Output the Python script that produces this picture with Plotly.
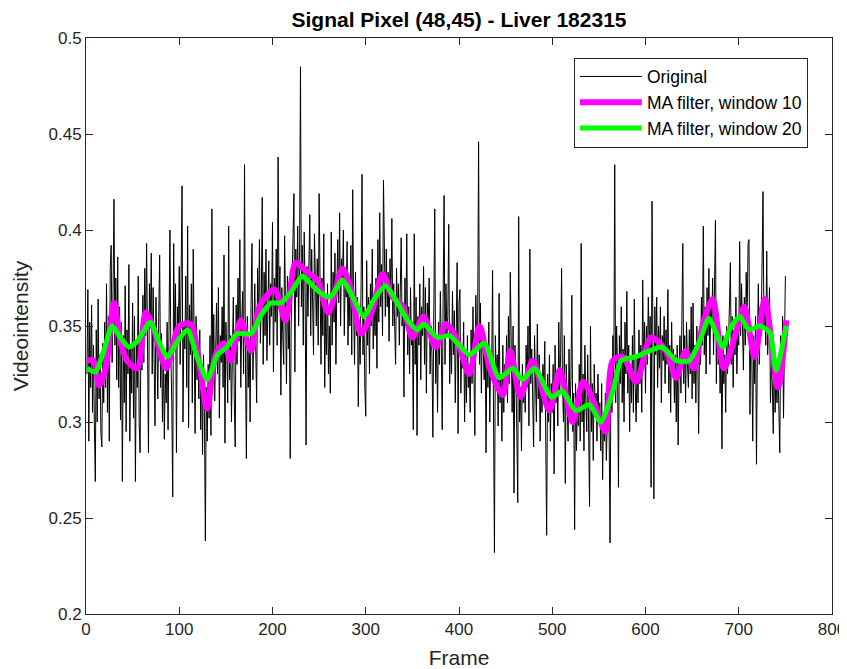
import numpy as np
import plotly.graph_objects as go

# ---------------- data ----------------
original = [
    0.325, 0.369, 0.290, 0.352, 0.318, 0.361, 0.305, 0.340, 0.298, 0.269,
    0.348, 0.300, 0.364, 0.312, 0.335, 0.294, 0.287, 0.341, 0.310, 0.352,
    0.318, 0.372, 0.305, 0.355, 0.290, 0.380, 0.392, 0.331, 0.368, 0.416,
    0.340, 0.375, 0.322, 0.386, 0.318, 0.360, 0.301, 0.352, 0.269, 0.345,
    0.310, 0.371, 0.295, 0.348, 0.325, 0.382, 0.290, 0.339, 0.315, 0.362,
    0.302, 0.355, 0.269, 0.341, 0.318, 0.376, 0.300, 0.284, 0.350, 0.327,
    0.366, 0.331, 0.380, 0.345, 0.393, 0.320, 0.284, 0.372, 0.350, 0.388,
    0.325, 0.370, 0.340, 0.298, 0.365, 0.334, 0.312, 0.355, 0.387, 0.318,
    0.346, 0.300, 0.338, 0.291, 0.325, 0.310, 0.352, 0.296, 0.368, 0.400,
    0.335, 0.310, 0.261, 0.393, 0.340, 0.372, 0.284, 0.360, 0.345, 0.381,
    0.330, 0.365, 0.423, 0.300, 0.352, 0.338, 0.376, 0.318, 0.402, 0.297,
    0.361, 0.335, 0.372, 0.310, 0.390, 0.342, 0.294, 0.355, 0.322, 0.340,
    0.312, 0.348, 0.296, 0.330, 0.283, 0.335, 0.305, 0.238, 0.318, 0.290,
    0.330, 0.302, 0.345, 0.293, 0.411, 0.320, 0.356, 0.311, 0.338, 0.362,
    0.325, 0.370, 0.302, 0.345, 0.331, 0.360, 0.318, 0.387, 0.289, 0.352,
    0.338, 0.310, 0.402, 0.322, 0.345, 0.300, 0.336, 0.365, 0.312, 0.287,
    0.361, 0.330, 0.375, 0.342, 0.395, 0.318, 0.352, 0.368, 0.325, 0.434,
    0.330, 0.281, 0.355, 0.318, 0.342, 0.300, 0.362, 0.393, 0.322, 0.345,
    0.372, 0.338, 0.310, 0.380, 0.352, 0.395, 0.341, 0.365, 0.417, 0.330,
    0.378, 0.345, 0.390, 0.332, 0.362, 0.384, 0.340, 0.372, 0.355, 0.404,
    0.326, 0.375, 0.352, 0.390, 0.340, 0.438, 0.362, 0.381, 0.314, 0.370,
    0.345, 0.330, 0.397, 0.352, 0.320, 0.376, 0.338, 0.360, 0.281, 0.350,
    0.372, 0.398, 0.419, 0.326, 0.390, 0.365, 0.402, 0.350, 0.385, 0.485,
    0.360, 0.392, 0.340, 0.399, 0.368, 0.288, 0.381, 0.355, 0.375, 0.408,
    0.345, 0.390, 0.362, 0.335, 0.398, 0.370, 0.350, 0.385, 0.340, 0.419,
    0.368, 0.330, 0.375, 0.345, 0.398, 0.318, 0.360, 0.335, 0.372, 0.325,
    0.350, 0.315, 0.399, 0.340, 0.378, 0.352, 0.388, 0.330, 0.370, 0.395,
    0.362, 0.409, 0.350, 0.385, 0.372, 0.400, 0.345, 0.380, 0.365, 0.394,
    0.340, 0.375, 0.350, 0.392, 0.335, 0.421, 0.360, 0.330, 0.378, 0.345,
    0.365, 0.308, 0.350, 0.330, 0.372, 0.429, 0.335, 0.360, 0.318, 0.303,
    0.384, 0.340, 0.365, 0.325, 0.372, 0.350, 0.390, 0.338, 0.360, 0.345,
    0.375, 0.328, 0.395, 0.352, 0.409, 0.360, 0.382, 0.345, 0.426, 0.368,
    0.355, 0.390, 0.360, 0.378, 0.342, 0.385, 0.365, 0.406, 0.350, 0.372,
    0.345, 0.330, 0.380, 0.355, 0.372, 0.340, 0.368, 0.396, 0.350, 0.362,
    0.313, 0.375, 0.350, 0.398, 0.335, 0.360, 0.325, 0.370, 0.340, 0.352,
    0.296, 0.398, 0.330, 0.365, 0.293, 0.355, 0.340, 0.372, 0.322, 0.360,
    0.345, 0.381, 0.330, 0.370, 0.315, 0.362, 0.348, 0.375, 0.325, 0.350,
    0.335, 0.292, 0.360, 0.411, 0.320, 0.345, 0.305, 0.352, 0.330, 0.368,
    0.340, 0.296, 0.365, 0.418, 0.330, 0.372, 0.345, 0.355, 0.403, 0.320,
    0.350, 0.325, 0.368, 0.335, 0.358, 0.310, 0.345, 0.383, 0.294, 0.362,
    0.369, 0.315, 0.340, 0.328, 0.352, 0.300, 0.335, 0.310, 0.345, 0.318,
    0.330, 0.305, 0.348, 0.320, 0.360, 0.335, 0.293, 0.366, 0.340, 0.352,
    0.446, 0.330, 0.362, 0.315, 0.350, 0.338, 0.322, 0.345, 0.284, 0.340,
    0.318, 0.352, 0.300, 0.335, 0.325, 0.379, 0.310, 0.232, 0.345, 0.320,
    0.335, 0.298, 0.367, 0.310, 0.325, 0.290, 0.340, 0.305, 0.330, 0.315,
    0.345, 0.310, 0.355, 0.320, 0.378, 0.335, 0.305, 0.350, 0.263, 0.340,
    0.325, 0.295, 0.258, 0.407, 0.300, 0.318, 0.285, 0.330, 0.310, 0.322,
    0.305, 0.340, 0.318, 0.350, 0.298, 0.390, 0.320, 0.338, 0.310, 0.287,
    0.345, 0.320, 0.300, 0.351, 0.312, 0.335, 0.290, 0.325, 0.305, 0.330,
    0.318, 0.342, 0.295, 0.241, 0.325, 0.300, 0.335, 0.290, 0.320, 0.305,
    0.330, 0.273, 0.340, 0.310, 0.325, 0.298, 0.352, 0.315, 0.335, 0.380,
    0.320, 0.300, 0.345, 0.268, 0.330, 0.310, 0.290, 0.338, 0.305, 0.322,
    0.366, 0.295, 0.315, 0.244, 0.320, 0.285, 0.310, 0.298, 0.330, 0.290,
    0.393, 0.300, 0.325, 0.285, 0.340, 0.310, 0.295, 0.335, 0.305, 0.256,
    0.350, 0.295, 0.320, 0.280, 0.330, 0.305, 0.315, 0.290, 0.325, 0.300,
    0.310, 0.285, 0.320, 0.270, 0.305, 0.290, 0.315, 0.280, 0.300, 0.325,
    0.295, 0.237, 0.330, 0.305, 0.345, 0.320, 0.434, 0.310, 0.350, 0.330,
    0.266, 0.345, 0.320, 0.360, 0.310, 0.338, 0.300, 0.352, 0.325, 0.368,
    0.315, 0.340, 0.295, 0.330, 0.310, 0.345, 0.305, 0.364, 0.318, 0.300,
    0.335, 0.310, 0.348, 0.320, 0.340, 0.305, 0.374, 0.328, 0.352, 0.315,
    0.350, 0.330, 0.365, 0.338, 0.355, 0.266, 0.415, 0.345, 0.260, 0.360,
    0.335, 0.365, 0.318, 0.350, 0.328, 0.360, 0.310, 0.345, 0.332, 0.355,
    0.320, 0.348, 0.330, 0.369, 0.315, 0.340, 0.305, 0.352, 0.325, 0.338,
    0.310, 0.335, 0.300, 0.340, 0.288, 0.328, 0.345, 0.315, 0.355, 0.393,
    0.320, 0.345, 0.310, 0.352, 0.330, 0.318, 0.348, 0.325, 0.360, 0.312,
    0.362, 0.320, 0.340, 0.310, 0.350, 0.335, 0.294, 0.345, 0.330, 0.365,
    0.340, 0.402, 0.335, 0.360, 0.325, 0.370, 0.345, 0.380, 0.330, 0.362,
    0.350, 0.375, 0.335, 0.368, 0.405, 0.320, 0.355, 0.330, 0.345, 0.315,
    0.340, 0.286, 0.345, 0.320, 0.335, 0.305, 0.350, 0.325, 0.338, 0.360,
    0.383, 0.330, 0.355, 0.318, 0.348, 0.335, 0.365, 0.325, 0.350, 0.340,
    0.394, 0.345, 0.372, 0.350, 0.327, 0.365, 0.340, 0.378, 0.355, 0.393,
    0.395, 0.304, 0.350, 0.335, 0.290, 0.345, 0.320, 0.355, 0.278, 0.340,
    0.372, 0.330, 0.360, 0.345, 0.380, 0.420, 0.350, 0.365, 0.340, 0.389,
    0.335, 0.350, 0.370, 0.310, 0.330, 0.320, 0.294, 0.340, 0.305, 0.325,
    0.310, 0.330, 0.300, 0.284, 0.345, 0.320, 0.355, 0.302, 0.340, 0.376,
]
frames = np.arange(1, len(original) + 1)

ma10_frames = [1, 8, 14, 21, 30, 37, 44, 55, 64, 73, 86, 100, 112, 121, 130,
               139, 148, 155, 166, 177, 186, 202, 214, 225, 237, 248, 260, 275,
               284, 295, 307, 318, 329, 340, 350, 362, 375, 386, 397, 411, 422,
               433, 447, 455, 466, 479, 497, 508, 522, 533, 544, 557, 565, 576,
               590, 606, 622, 633, 643, 652, 661, 672, 684, 699, 706, 717, 728,
               742, 751]
ma10_values = [0.332, 0.332, 0.319, 0.328, 0.362, 0.342, 0.332, 0.328, 0.357,
               0.348, 0.328, 0.350, 0.351, 0.332, 0.307, 0.335, 0.341, 0.332,
               0.353, 0.337, 0.360, 0.369, 0.353, 0.383, 0.378, 0.374, 0.357,
               0.380, 0.369, 0.346, 0.358, 0.377, 0.365, 0.360, 0.344, 0.355,
               0.339, 0.351, 0.344, 0.325, 0.350, 0.328, 0.314, 0.337, 0.313,
               0.332, 0.306, 0.327, 0.300, 0.321, 0.311, 0.295, 0.332, 0.334,
               0.321, 0.344, 0.337, 0.323, 0.337, 0.328, 0.350, 0.364, 0.328,
               0.350, 0.360, 0.334, 0.364, 0.318, 0.353]

ma20_frames = [1, 10, 19, 28, 37, 46, 55, 69, 78, 87, 98, 109, 119, 130, 141,
               151, 162, 177, 187, 198, 209, 219, 232, 241, 252, 262, 275, 284,
               298, 309, 321, 334, 345, 355, 362, 377, 390, 411, 427, 443, 458,
               468, 481, 499, 511, 525, 540, 552, 565, 574, 590, 604, 618, 633,
               647, 658, 668, 683, 690, 701, 711, 722, 733, 740, 751]
ma20_values = [0.328, 0.326, 0.337, 0.350, 0.344, 0.339, 0.342, 0.352, 0.342,
               0.334, 0.342, 0.348, 0.334, 0.322, 0.335, 0.339, 0.346, 0.346,
               0.355, 0.362, 0.362, 0.367, 0.376, 0.372, 0.367, 0.365, 0.374,
               0.367, 0.355, 0.364, 0.371, 0.362, 0.353, 0.348, 0.351, 0.344,
               0.345, 0.335, 0.341, 0.323, 0.328, 0.322, 0.328, 0.313, 0.316,
               0.306, 0.309, 0.300, 0.316, 0.332, 0.334, 0.337, 0.339, 0.332,
               0.332, 0.342, 0.354, 0.339, 0.348, 0.355, 0.348, 0.350, 0.347,
               0.327, 0.350]

x_ticks = [0, 100, 200, 300, 400, 500, 600, 700, 800]
y_ticks = [0.2, 0.25, 0.3, 0.35, 0.4, 0.45, 0.5]
y_tick_labels = ["0.2", "0.25", "0.3", "0.35", "0.4", "0.45", "0.5"]

series_names = ["Original", "MA filter, window 10", "MA filter, window 20"]
title_text = "Signal Pixel (48,45) - Liver 182315"
x_label = "Frame"
y_label = "Videointensity"

# ---------------- figure ----------------
FONT = "Liberation Sans, Arial, Helvetica, sans-serif"
AXC = "#262626"
# the page body has an 8px margin, so the figure is sized/positioned to compensate
W, H = 839, 661

fig = go.Figure()
fig.add_trace(go.Scatter(x=frames, y=original, mode="lines", name=series_names[0],
                         line=dict(color="#000000", width=1)))
fig.add_trace(go.Scatter(x=ma10_frames, y=ma10_values, mode="lines", name=series_names[1],
                         line=dict(color="#ff00ff", width=6, shape="spline", smoothing=0.8)))
fig.add_trace(go.Scatter(x=ma20_frames, y=ma20_values, mode="lines", name=series_names[2],
                         line=dict(color="#00ff00", width=5, shape="spline", smoothing=0.6)))

axis_common = dict(
    showgrid=False, zeroline=False, showline=True, linecolor=AXC, linewidth=1,
    mirror="ticks", ticks="inside", ticklen=7, tickcolor=AXC, automargin=False,
    tickfont=dict(family=FONT, size=17, color=AXC),
)

fig.update_layout(
    width=W, height=H,
    paper_bgcolor="white", plot_bgcolor="white",
    margin=dict(l=78, r=15, t=30, b=55),
    title=dict(text="<b>" + title_text + "</b>", x=(78 + W - 15) / 2 / W, xanchor="center",
               y=1 - 12 / H, yanchor="middle",
               font=dict(family=FONT, size=21, color="#000000")),
    xaxis=dict(range=[0, 800], tickvals=x_ticks,
               title=dict(text=x_label, font=dict(family=FONT, size=21, color=AXC), standoff=12),
               **axis_common),
    yaxis=dict(range=[0.2, 0.5], tickvals=y_ticks, ticktext=y_tick_labels,
               title=dict(text=y_label, font=dict(family=FONT, size=21, color=AXC), standoff=14),
               **axis_common),
    legend=dict(x=0.654, y=0.966, xanchor="left", yanchor="top",
                bgcolor="white", bordercolor=AXC, borderwidth=1,
                font=dict(family=FONT, size=17.5, color="#000000"),
                itemwidth=62, tracegroupgap=0),
    showlegend=True,
)

fig.write_html("out.html")
